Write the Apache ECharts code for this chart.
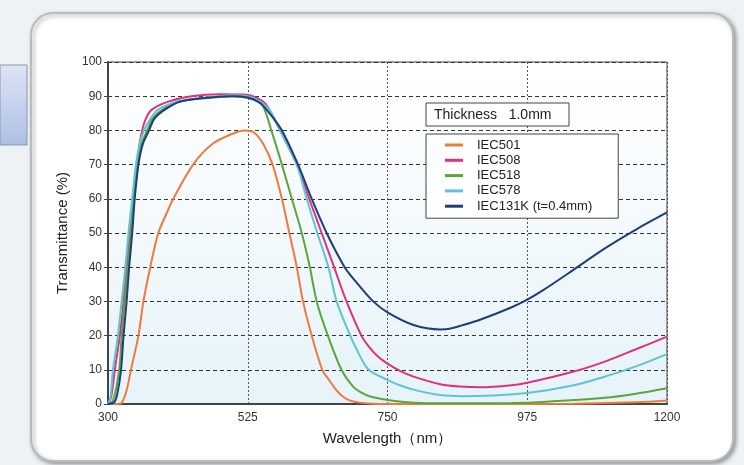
<!DOCTYPE html>
<html style="height: 100%">
<head>
    <meta charset="utf-8">
</head>
<body style="height: 100%; margin: 0; background: #edf2f5">
    <div id="container" style="width: 744px; height: 465px"></div>
    <script src="https://cdn.jsdelivr.net/npm/echarts@6/dist/echarts.min.js"></script>
    <script type="text/javascript">
        // wavelength (nm), transmittance (%)
        var iec501 = [[300, 0], [315, 0], [322, 0.3], [330, 4], [337, 10], [349, 20], [357, 30], [368, 40], [381, 50], [395, 56], [405, 60], [437, 70], [468, 76], [500, 79], [520, 80], [535, 79.4], [550, 76], [565, 70], [580, 60], [592, 50], [604, 40], [614, 30], [628, 20], [645, 10], [656, 7], [668, 4], [678, 2.2], [690, 1], [705, 0.4], [725, 0.1], [750, 0], [900, 0], [1050, 0.1], [1150, 0.5], [1200, 1]];
        var iec508 = [[300, 0], [305, 2], [311, 10], [319, 20], [325, 30], [330, 40], [335, 50], [341, 60], [347, 70], [350, 75], [355, 80], [360, 83], [370, 86], [397, 88.4], [434, 90], [480, 90.6], [520, 90.5], [540, 89.5], [555, 87.5], [577, 80], [604, 70], [624, 60], [644, 50], [664, 40], [684, 30], [708, 20], [720, 16.8], [735, 13.8], [750, 11.8], [770, 9.7], [792, 8], [835, 5.8], [867, 5.1], [900, 4.9], [950, 5.5], [975, 6.2], [1050, 9.5], [1100, 12.4], [1150, 16], [1200, 19.7]];
        var iec518 = [[300, 0], [308, 1], [318, 10], [322, 20], [327, 30], [332, 40], [337, 50], [341, 60], [347, 70], [354, 76], [363, 80], [372, 83.5], [387, 86], [412, 88.3], [460, 89.5], [500, 90], [525, 89.5], [540, 88.5], [550, 87], [563, 80], [580, 70], [596, 60], [612, 50], [625, 40], [636, 30], [654, 20], [676, 10], [695, 5], [708, 3.3], [722, 2.2], [750, 1.2], [792, 0.4], [850, 0.2], [950, 0.3], [1000, 0.6], [1100, 1.8], [1150, 3], [1200, 4.6]];
        var iec578 = [[300, 0], [304, 2], [308, 10], [316, 20], [322, 30], [328, 40], [333, 50], [339, 60], [345, 70], [351, 76], [358, 80], [367, 83], [380, 86], [410, 88.3], [450, 89.5], [500, 90.3], [525, 90], [545, 88.5], [560, 86], [577, 80], [604, 70], [620, 60], [637, 50], [655, 40], [668, 30], [690, 20], [703, 15], [715, 11], [725, 9.3], [740, 7.9], [750, 7], [770, 5.5], [792, 4.2], [835, 2.6], [870, 2.3], [920, 2.5], [975, 3.2], [1050, 5.5], [1100, 8], [1150, 11], [1200, 14.6]];
        var iec131k = [[300, 0], [310, 0.5], [315, 3], [321, 10], [325, 20], [330, 30], [334, 40], [339, 50], [343, 60], [349, 70], [356, 76], [366, 80], [375, 83.5], [391, 86], [415, 88.4], [450, 89.4], [500, 90], [525, 89.6], [545, 88], [560, 85], [580, 80], [606, 70], [628, 60], [652, 50], [681, 40], [698, 36], [727, 30], [750, 26.8], [792, 23.1], [835, 21.8], [850, 22], [870, 23], [900, 24.7], [950, 28.3], [975, 30.5], [1000, 33.2], [1050, 39.3], [1100, 45.5], [1150, 51], [1200, 56]];

        var names = ['IEC501', 'IEC508', 'IEC518', 'IEC578', 'IEC131K (t=0.4mm)'];
        var colors = ['#ef7a3c', '#e0317c', '#5aa63c', '#5ec3d6', '#1f3d7c'];
        var curves = [iec501, iec508, iec518, iec578, iec131k];

        var font = 'Liberation Sans, Arial, sans-serif';
        var dom = document.getElementById("container");
        var myChart = echarts.init(dom);

        var series = [];
        for (var i = 0; i < curves.length; i++) {
            series.push({
                name: names[i],
                type: 'line',
                data: curves[i],
                smooth: 0.3,
                showSymbol: false,
                lineStyle: { color: colors[i], width: 2 },
                itemStyle: { color: colors[i] }
            });
        }

        var option = {
            animation: false,
            backgroundColor: '#edf2f5',
            graphic: [
                {   // blue tab on the left
                    type: 'rect', z: -20,
                    shape: { x: 0, y: 65, width: 27, height: 80 },
                    style: {
                        fill: new echarts.graphic.LinearGradient(0, 0, 0, 1, [
                            { offset: 0, color: '#dde4f5' }, { offset: 1, color: '#aebfe6' }
                        ]),
                        stroke: '#8d97a8', lineWidth: 1
                    }
                },
                {   // card
                    type: 'rect', z: -10,
                    shape: { x: 31, y: 13, width: 702, height: 448, r: 22 },
                    style: {
                        fill: '#ffffff', stroke: '#b9bcbf', lineWidth: 2,
                        shadowBlur: 4, shadowColor: 'rgba(0,0,0,0.35)', shadowOffsetX: 2, shadowOffsetY: 2
                    }
                },
                {
                    type: 'rect', z: 10,
                    shape: { x: 426, y: 103, width: 143, height: 23 },
                    style: { fill: '#ffffff', stroke: '#444', lineWidth: 1 }
                },
                {
                    type: 'text', z: 11, x: 434, y: 115,
                    style: { text: 'Thickness   1.0mm', font: '14px ' + font, fill: '#222', verticalAlign: 'middle' }
                }
            ],
            grid: {
                left: 108, right: 77, top: 62, bottom: 61,
                show: true,
                borderColor: '#444', borderWidth: 1,
                backgroundColor: new echarts.graphic.LinearGradient(0, 0, 0, 1, [
                    { offset: 0, color: '#ffffff' }, { offset: 1, color: '#e6f3f9' }
                ])
            },
            legend: {
                data: names,
                orient: 'vertical',
                left: 426, top: 134,
                padding: [4, 26, 5, 19],
                itemWidth: 18, itemHeight: 3, itemGap: 1.3,
                icon: 'rect',
                backgroundColor: '#ffffff',
                borderColor: '#444', borderWidth: 1,
                textStyle: { fontFamily: font, fontSize: 13, color: '#222', lineHeight: 14, padding: [0, 0, 0, 9] },
                z: 10
            },
            xAxis: {
                type: 'value',
                min: 300, max: 1200, interval: 225,
                name: 'Wavelength（nm）',
                nameLocation: 'middle', nameGap: 27,
                nameTextStyle: { fontFamily: font, fontSize: 15, color: '#222' },
                axisLine: { lineStyle: { color: '#444', width: 2 } },
                axisTick: { show: false },
                axisLabel: {
                    fontFamily: font, fontSize: 12, color: '#333', margin: 8,
                    formatter: function (v) { return String(v); }
                },
                splitLine: { show: true, lineStyle: { color: '#555', type: [2, 2], width: 1 } }
            },
            yAxis: {
                type: 'value',
                min: 0, max: 100, interval: 10,
                name: 'Transmittance (%)',
                nameLocation: 'middle', nameGap: 38,
                nameTextStyle: { fontFamily: font, fontSize: 15, color: '#222' },
                axisLine: { show: true, lineStyle: { color: '#444', width: 2 } },
                axisTick: { show: true, length: 4, lineStyle: { color: '#444' } },
                axisLabel: { fontFamily: font, fontSize: 12, color: '#333', margin: 6 },
                splitLine: { show: true, lineStyle: { color: '#333', type: [4, 3], width: 1 } }
            },
            series: series
        };

        myChart.setOption(option);
    </script>
</body>
</html>
